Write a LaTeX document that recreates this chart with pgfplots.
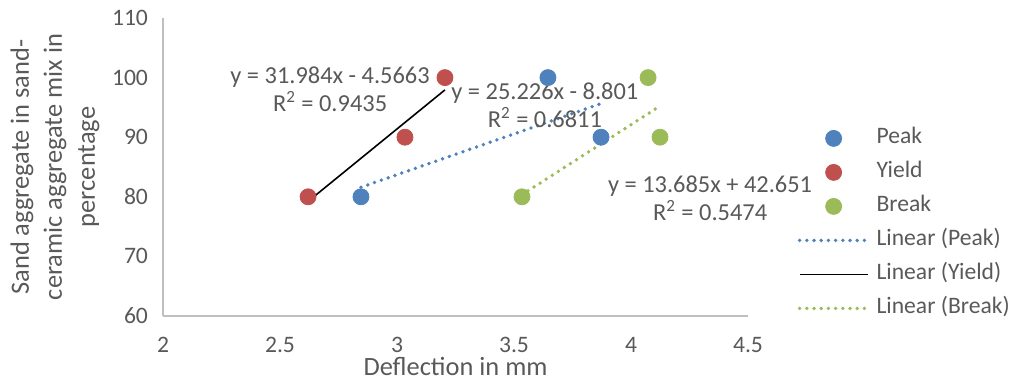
\documentclass[border=0pt]{standalone}
\usepackage{pgfplots}
\pgfplotsset{compat=1.18}
\usepackage{fontspec}
\setmainfont{Carlito}
\definecolor{peak}{HTML}{4F81BD}
\definecolor{yield}{HTML}{C0504D}
\definecolor{brk}{HTML}{9BBB59}
\definecolor{txt}{HTML}{595959}
\definecolor{axl}{HTML}{BFBFBF}
\begin{document}
\begin{tikzpicture}
\useasboundingbox (-81.5pt,-31.5pt) rectangle (426.5pt,158pt);
\begin{axis}[
  at={(0pt,0pt)}, anchor=south west,
  scale only axis, width=292.5pt, height=149pt,
  xmin=2, xmax=4.5, ymin=60, ymax=110,
  xtick={2,2.5,3,3.5,4,4.5}, ytick={60,70,80,90,100,110},
  axis x line*=bottom, axis y line*=left,
  axis line style={draw=axl, line width=0.8pt, -},
  major tick length=0pt,
  /pgf/number format/assume math mode=true,
  tick label style={font=\fontsize{11.8}{13}\selectfont, text=txt},
  xticklabel style={yshift=-7pt},
  yticklabel style={xshift=-4pt},
  clip=false,
  legend style={at={(rel axis cs:1.085,0.653)}, anchor=north west, draw=none, fill=none,
    font=\fontsize{11.8}{13}\selectfont, text=txt, inner sep=0pt, outer sep=0pt,
    nodes={text height=8pt, text depth=2.5pt, inner ysep=3.25pt, inner xsep=3.5pt}},
  legend cell align=left,
  legend image code/.code={\draw[mark repeat=2,mark phase=2,#1] plot coordinates {(0pt,0pt) (17pt,0pt) (34pt,0pt)};},
]
\addplot[only marks, mark=*, mark size=4pt, color=peak] coordinates {(2.846,80) (3.645,100) (3.872,90)};
\addlegendentry{Peak}
\addplot[only marks, mark=*, mark size=4pt, color=yield] coordinates {(2.62,80) (3.034,90) (3.205,100)};
\addlegendentry{Yield}
\addplot[only marks, mark=*, mark size=4pt, color=brk] coordinates {(3.534,80) (4.073,100) (4.124,90)};
\addlegendentry{Break}
\addplot[no marks, color=peak, line width=1.9pt, line cap=round, dash pattern=on 0pt off 3.6pt] coordinates {(2.846,81.60) (3.872,95.64)};
\addlegendentry{Linear (Peak)}
\addplot[no marks, color=black, line width=0.8pt] coordinates {(2.62,79.23) (3.205,97.94)};
\addlegendentry{Linear (Yield)}
\addplot[no marks, color=brk, line width=1.9pt, line cap=round, dash pattern=on 0pt off 3.6pt] coordinates {(3.534,80.35) (4.124,95.23)};
\addlegendentry{Linear (Break)}
\node[align=center, text=txt, font=\fontsize{12.2}{14}\selectfont] at (axis cs:2.714,98.09) {y = 31.984x - 4.5663\\R\textsuperscript{2} = 0.9435};
\node[align=center, text=txt, font=\fontsize{12.2}{14}\selectfont] at (axis cs:3.632,95.40) {y = 25.226x - 8.801\\R\textsuperscript{2} = 0.6811};
\node[align=center, text=txt, font=\fontsize{12.2}{14}\selectfont] at (axis cs:4.338,79.80) {y = 13.685x + 42.651\\R\textsuperscript{2} = 0.5474};
\node[rotate=90, align=center, text=txt, font=\fontsize{13.2}{16.5}\selectfont] at ([xshift=-54pt]rel axis cs:0,0.5) {Sand aggregate in sand-\\ceramic aggregate mix in\\percentage};
\node[text=txt, font=\fontsize{13.2}{15}\selectfont] at ([yshift=-25pt]rel axis cs:0.5,0) {Deflection in mm};
\end{axis}
\end{tikzpicture}
\end{document}
